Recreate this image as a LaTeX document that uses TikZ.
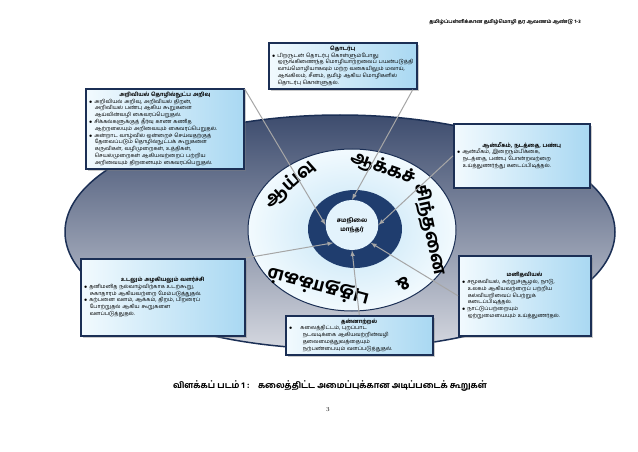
\documentclass[tikz,border=0pt]{standalone}
\usepackage{fontspec}
\newfontfamily\ta[Script=Tamil,BoldFont={Hind Madurai Bold}]{Hind Madurai}
\usetikzlibrary{shadows,shapes.geometric}
\definecolor{navy}{HTML}{1B2F55}
\definecolor{boxl}{HTML}{F2FAFE}
\definecolor{boxr}{HTML}{A9D8F2}
\definecolor{ringc}{HTML}{1F3D6E}
\definecolor{outerd}{HTML}{3D4C6E}
\definecolor{outerl}{HTML}{D5D8E0}
\begin{document}
\begin{tikzpicture}[x=1pt,y=-1pt,
  infobox/.style={draw=navy,line width=1.6pt,left color=boxl,right color=boxr,drop shadow={opacity=0.4},inner sep=3pt,align=left,font=\ta\fontsize{5.4}{6.8}\selectfont,anchor=north west},
  conn/.style={draw=gray!70,line width=1pt,-latex},
  ring/.style={font=\ta\bfseries\fontsize{18}{18}\selectfont,text=black,inner sep=0pt}]
\useasboundingbox (0,0) rectangle (638,452);
\fill[white] (0,0) rectangle (638,452);
\node[font=\ta\bfseries\fontsize{5}{6}\selectfont] (hdr) at (505,22) {தமிழ்ப்பள்ளிக்கான தமிழ்மொழி தர ஆவணம் ஆண்டு 1-3};
\shade[shading angle=-30,top color=outerd,bottom color=outerl,draw=navy,line width=1.5pt] (340,232) ellipse [x radius=275,y radius=117];
\shade[inner color=boxr!70,outer color=boxl,draw=navy,line width=1pt] (352,230) ellipse [x radius=104,y radius=81];
\fill[ringc] (355,229) ellipse [x radius=47,y radius=39];
\node[ellipse,fill=boxl!80!boxr,minimum width=52pt,minimum height=50pt,align=center,font=\ta\bfseries\fontsize{6}{9}\selectfont] (ctr) at (352,225) {சமநிலை\\மாந்தர்};
\node[ring,rotate=42] (w1) at (290,184) {ஆய்வு};
\node[ring,rotate=-20] (w2) at (383,168) {ஆக்கச்};
\node[ring,rotate=-78] (w3) at (430,230) {சிந்தனை};
\node[ring,rotate=-150] (w4) at (404,284) {\&};
\node[ring,rotate=165] (w5) at (318,286) {புத்தாக்கம்};
\node[infobox,text width=142pt] (b1) at (268,42) {\hfil\textbf{தொடர்பு}\hfil\\
$\bullet$ பிறருடன் தொடர்பு கொள்ளும்போது\\\hspace*{6pt}ஒருங்கிணைந்த மொழியாற்றலைப் பயன்படுத்தி\\\hspace*{6pt}வாய்மொழியாகவும் மற்ற வகையிலும் மலாய்,\\\hspace*{6pt}ஆங்கிலம், சீனம், தமிழ் ஆகிய மொழிகளில்\\\hspace*{6pt}தொடர்பு கொள்ளுதல்.};
\node[infobox,text width=152pt] (b2) at (85,88) {\hfil\textbf{அறிவியல் தொழில்நுட்ப அறிவு}\hfil\\
$\bullet$ அறிவியல் அறிவு, அறிவியல் திறன்,\\\hspace*{6pt}அறிவியல் பண்பு ஆகிய கூறுகளை\\\hspace*{6pt}ஆய்வின்வழி கைவரப்பெறுதல்.\\
$\bullet$ சிக்கல்களுக்குத் தீர்வு காண கணித\\\hspace*{6pt}ஆற்றலையும் அறிவையும் கைவரப்பெறுதல்.\\
$\bullet$ அன்றாட வாழ்வில் ஒன்றைச் செய்வதற்குத்\\\hspace*{6pt}தேவைப்படும் தொழில்நுட்பக் கூறுகளை\\\hspace*{6pt}கருவிகள், வழிமுறைகள், உத்திகள்,\\\hspace*{6pt}செயல்முறைகள் ஆகியவற்றைப் பற்றிய\\\hspace*{6pt}அறிவையும் திறனையும் கைவரப்பெறுதல்.\\[4pt]};
\node[infobox,text width=130pt,minimum height=64pt] (b3) at (453,123) {\hfil\textbf{ஆன்மீகம், நடத்தை, பண்பு}\hfil\\
$\bullet$ ஆன்மீகம், இறைநம்பிக்கை,\\\hspace*{6pt}நடத்தை, பண்பு போன்றவற்றை\\\hspace*{6pt}உய்த்துணர்ந்து கடைப்பிடித்தல்.\\[16pt]};
\node[infobox,text width=126pt,minimum height=80pt] (b4) at (458,255) {\hfil\textbf{மனிதவியல்}\hfil\\
$\bullet$ சமூகவியல், சுற்றுச்சூழல், நாடு,\\\hspace*{6pt}உலகம் ஆகியவற்றைப் பற்றிய\\\hspace*{6pt}கல்வியறிவைப் பெற்றுக்\\\hspace*{6pt}கடைப்பிடித்தல்.\\
$\bullet$ நாட்டுப்பற்றையும்\\\hspace*{6pt}ஒற்றுமையையும் உய்த்துணர்தல்.\\[4pt]};
\node[infobox,text width=158pt,minimum height=77pt] (b5) at (80,258) {\hfil\textbf{உடலும் அழகியலும் வளர்ச்சி}\hfil\\
$\bullet$ தனிமனித நல்வாழ்விற்காக உடற்கூறு,\\\hspace*{6pt}சுகாதாரம் ஆகியவற்றை மேம்படுத்துதல்.\\
$\bullet$ கற்பனை வளம், ஆக்கம், திறம், பிறரைப்\\\hspace*{6pt}போற்றுதல் ஆகிய கூறுகளை\\\hspace*{6pt}வளப்படுத்துதல்.\\[12pt]};
\node[infobox,text width=141pt] (b6) at (285,315) {\hfil\textbf{தன்னாற்றல்}\hfil\\
$\bullet$\hspace*{8pt}கலைத்திட்டம், புறப்பாட\\\hspace*{14pt}நடவடிக்கை ஆகியவற்றின்வழி\\\hspace*{14pt}தலைமைத்துவத்தையும்\\\hspace*{14pt}நற்பண்பையும் வளப்படுத்துதல்.};
\draw[conn] (b1.south) ++(70,0) -- (ctr.north);
\draw[conn] (b2.east) ++(0,-40) -- (ctr.west);
\draw[conn] (b3.west) -- (ctr.east);
\draw[conn] (b4.west) -- (ctr.south east);
\draw[conn] (b5.north east) -- (ctr.south west);
\draw[conn] (b6.north) -- (ctr.south);
\node[font=\ta\bfseries\fontsize{8.5}{10}\selectfont] (cap) at (330,386) {விளக்கப் படம் 1 :\quad கலைத்திட்ட அமைப்புக்கான அடிப்படைக் கூறுகள்};
\node[font=\fontsize{6}{7}\selectfont] (pg) at (328,410) {3};
\end{tikzpicture}
\end{document}
